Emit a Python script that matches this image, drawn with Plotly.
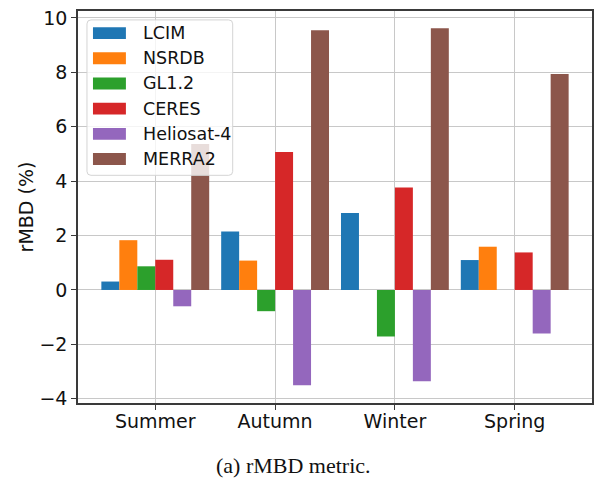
import plotly.graph_objects as go

# Seasons on the x axis and rMBD (%) per product
seasons = ["Summer", "Autumn", "Winter", "Spring"]
products = ["LCIM", "NSRDB", "GL1.2", "CERES", "Heliosat-4", "MERRA2"]
colors = ["#1f77b4", "#ff7f0e", "#2ca02c", "#d62728", "#9467bd", "#8c564b"]

lcim = [0.31, 2.15, 2.83, 1.10]
nsrdb = [1.83, 1.08, None, 1.59]
gl12 = [0.87, -0.78, -1.71, None]
ceres = [1.11, 5.07, 3.77, 1.38]
heliosat4 = [-0.60, -3.50, -3.36, -1.60]
merra2 = [5.37, 9.55, 9.62, 7.94]

series = [lcim, nsrdb, gl12, ceres, heliosat4, merra2]
y_ticks = [-4, -2, 0, 2, 4, 6, 8, 10]

W, H = 601, 479
ML, MR, MT, MB = 78, 8, 7, 76
PW, PH = W - ML - MR, H - MT - MB

def px_x(px):
    return (px - ML) / PW

def px_y(py):
    return (H - MB - py) / PH

fig = go.Figure()
for name, vals, col in zip(products, series, colors):
    fig.add_trace(go.Bar(
        x=seasons, y=vals, name=name, marker_color=col,
        marker_line_width=0, showlegend=False,
    ))

fig.update_layout(
    width=W, height=H,
    margin=dict(l=ML, r=MR, t=MT, b=MB),
    paper_bgcolor="white", plot_bgcolor="white",
    barmode="group", bargap=0.1, bargroupgap=0,
    font=dict(family="DejaVu Sans", size=19, color="#111"),
)

fig.update_xaxes(
    type="category", range=[-0.645, 3.645],
    showline=True, linecolor="#3a3a3a", linewidth=1.5, mirror=True,
    ticks="outside", ticklen=5, tickcolor="#3a3a3a",
    ticklabelstandoff=-5,
    showgrid=True, gridcolor="#c8c8c8", gridwidth=1,
    tickfont=dict(family="DejaVu Sans", size=19, color="#111"),
)
fig.update_yaxes(
    range=[-4.155, 10.255], tickvals=y_ticks,
    ticktext=[("\u2212" + str(abs(v))) if v < 0 else str(v) for v in y_ticks],
    showline=True, linecolor="#3a3a3a", linewidth=1.5, mirror=True,
    ticks="outside", ticklen=5, tickcolor="#3a3a3a",
    showgrid=True, gridcolor="#c8c8c8", gridwidth=1, zeroline=False,
    tickfont=dict(family="DejaVu Sans", size=19, color="#111"),
    title=dict(text="rMBD (%)", standoff=1,
               font=dict(family="DejaVu Sans", size=19, color="#111")),
)

# Legend box in the upper-left corner, drawn over the bars
bx0, bx1, by0, by1, r = 87, 233, 16, 173, 4
x0, x1 = px_x(bx0), px_x(bx1)
y0, y1 = px_y(by0), px_y(by1)
rx, ry = r / PW, r / PH
box_path = (
    f"M {x0 + rx} {y0} L {x1 - rx} {y0} Q {x1} {y0} {x1} {y0 - ry} "
    f"L {x1} {y1 + ry} Q {x1} {y1} {x1 - rx} {y1} "
    f"L {x0 + rx} {y1} Q {x0} {y1} {x0} {y1 + ry} "
    f"L {x0} {y0 - ry} Q {x0} {y0} {x0 + rx} {y0} Z"
)
fig.add_shape(type="path", path=box_path, xref="paper", yref="paper",
              fillcolor="rgba(255,255,255,0.8)", line=dict(color="#d4d4d4", width=1),
              layer="above")

row0, pitch = 29.3, 25.45
for i, (name, col) in enumerate(zip(products, colors)):
    cy = row0 + i * pitch
    fig.add_shape(type="rect", xref="paper", yref="paper",
                  x0=px_x(93), x1=px_x(126), y0=px_y(cy - 6), y1=px_y(cy + 6),
                  fillcolor=col, line_width=0, layer="above")
    fig.add_annotation(text=name, xref="paper", yref="paper",
                       x=px_x(141), y=px_y(cy), xanchor="left", yanchor="middle",
                       showarrow=False,
                       font=dict(family="DejaVu Sans", size=17.5, color="#111"))

fig.add_annotation(
    text="(a) rMBD metric.", xref="paper", yref="paper",
    x=px_x(294), y=px_y(466), xanchor="center", yanchor="middle",
    showarrow=False, font=dict(family="Liberation Serif", size=22, color="#111"),
)

fig.write_html("out.html")
